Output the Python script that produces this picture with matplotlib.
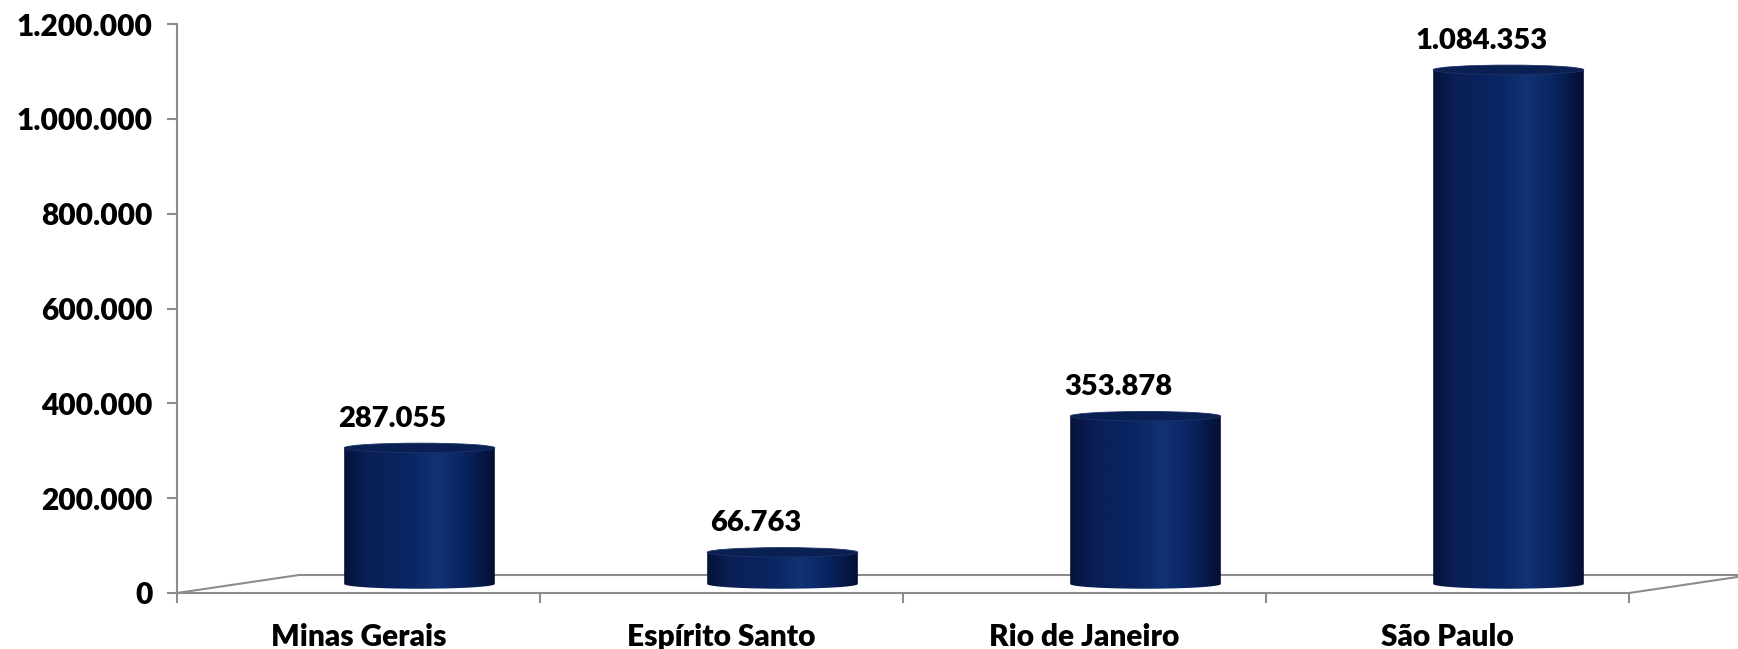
import numpy as np
import matplotlib
matplotlib.use("Agg")
import matplotlib.pyplot as plt
from matplotlib.patches import Ellipse
from matplotlib.path import Path
from matplotlib.colors import LinearSegmentedColormap

plt.rcParams['font.family'] = ['Lato', 'DejaVu Sans']
plt.rcParams['font.weight'] = 'heavy'

# data
states = ['Minas Gerais', 'Espírito Santo', 'Rio de Janeiro', 'São Paulo']
values = [287055, 66763, 353878, 1084353]
value_labels = ['287.055', '66.763', '353.878', '1.084.353']
y_ticks = [0, 200000, 400000, 600000, 800000, 1000000, 1200000]
y_tick_labels = ['0', '200.000', '400.000', '600.000', '800.000', '1.000.000', '1.200.000']

W, H = 1738, 649
fig = plt.figure(figsize=(W / 100, H / 100), dpi=100)
ax = fig.add_axes([177 / W, (H - 593) / H, (1629 - 177) / W, (593 - 24) / H])
ax.set_xlim(0, 4)
ax.set_ylim(0, 1200000)

# floor depth (3D look)
depth_x = 122 / 363
depth_y = 18 / 94.8 * 200000
grey = '#8c8c8c'

ax.plot([0, depth_x], [0, depth_y], color=grey, lw=1.5, clip_on=False)
ax.plot([depth_x, 4 + depth_x], [depth_y, depth_y], color=grey, lw=1.5, clip_on=False)
ax.plot([4, 4 + depth_x], [0, depth_y], color=grey, lw=1.5, clip_on=False)

# cylinders
bar_w = 0.415
ell_h = 20000
cmap = LinearSegmentedColormap.from_list('cyl', [
    (0.0, '#06123a'), (0.15, '#0a1f55'), (0.45, '#0a2664'),
    (0.62, '#123274'), (0.8, '#0a2460'), (1.0, '#050f33')])
grad = np.linspace(0, 1, 256).reshape(1, -1)

for i, v in enumerate(values):
    c = i + 0.5 + depth_x / 2
    base = depth_y / 2
    top = base + v
    x0, x1 = c - bar_w / 2, c + bar_w / 2
    t = np.linspace(np.pi, 2 * np.pi, 60)
    pts = [(x0, top)] + list(zip(c + bar_w / 2 * np.cos(t), base + ell_h / 2 * np.sin(t))) + [(x1, top), (x0, top)]
    path = Path(pts, closed=True)
    im = ax.imshow(grad, cmap=cmap, aspect='auto', extent=[x0, x1, base - ell_h, top],
                   origin='lower', zorder=3, interpolation='bilinear')
    patch = matplotlib.patches.PathPatch(path, transform=ax.transData, facecolor='none', edgecolor='none')
    ax.add_patch(patch)
    im.set_clip_path(patch)
    ax.add_patch(Ellipse((c, top), bar_w, ell_h, facecolor='#0a1f52', edgecolor='#1d3266', lw=0.6, zorder=4))
    ax.annotate(value_labels[i], (c - 0.075, top), xytext=(0, 21), textcoords='offset points',
                ha='center', va='center', fontsize=21, color='black', zorder=5)

ax.set_xlim(0, 4)
ax.set_ylim(0, 1200000)

# axes styling
for s in ['top', 'right']:
    ax.spines[s].set_visible(False)
ax.spines['left'].set_color(grey)
ax.spines['left'].set_linewidth(1.5)
ax.spines['bottom'].set_color(grey)
ax.spines['bottom'].set_linewidth(1.5)

ax.set_yticks(y_ticks)
ax.set_yticklabels(y_tick_labels, fontsize=21.5)
ax.tick_params(axis='y', length=7, width=1.5, color=grey, pad=10.5)

ax.set_xticks([0.5, 1.5, 2.5, 3.5])
ax.set_xticklabels(states, fontsize=21.5)
ax.set_xticks([0, 1, 2, 3, 4], minor=True)
ax.tick_params(axis='x', which='major', length=0, pad=21.5)
ax.tick_params(axis='x', which='minor', length=7, width=1.5, color=grey)

fig.savefig('out.png', dpi=100, facecolor='white')
